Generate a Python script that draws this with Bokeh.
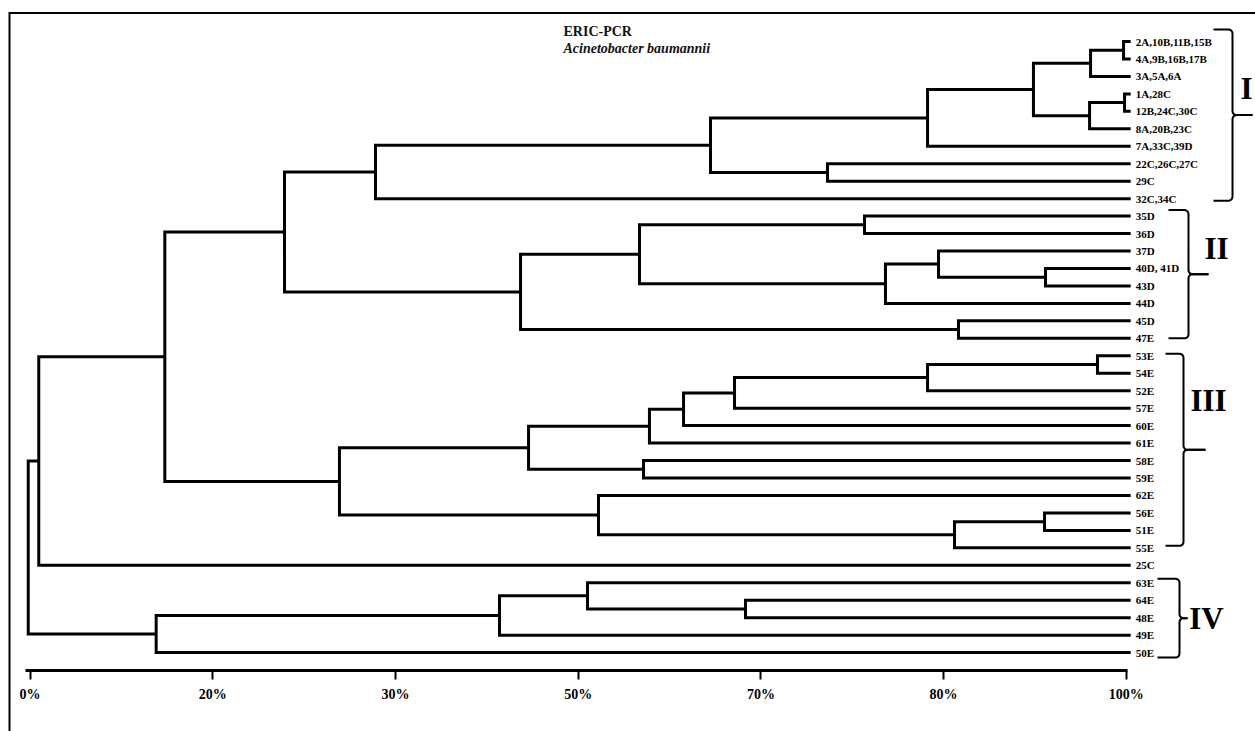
import numpy as np
from bokeh.plotting import figure
from bokeh.models import Range1d, LinearAxis, FixedTicker, CustomJSTickFormatter
from bokeh.core.properties import value
from bokeh.embed import file_html
from bokeh.resources import INLINE

# ---------------- data ----------------
title_text = "ERIC-PCR"
subtitle_text = "Acinetobacter baumannii"

leaf_labels = [
    "2A,10B,11B,15B", "4A,9B,16B,17B", "3A,5A,6A", "1A,28C", "12B,24C,30C",
    "8A,20B,23C", "7A,33C,39D", "22C,26C,27C", "29C", "32C,34C",
    "35D", "36D", "37D", "40D, 41D", "43D", "44D", "45D", "47E",
    "53E", "54E", "52E", "57E", "60E", "61E", "58E", "59E", "62E",
    "56E", "51E", "55E", "25C", "63E", "64E", "48E", "49E", "50E",
]

# merges: (node name, left child, right child, height on the axis scale 0..100)
merge_names = ["A", "B", "C", "D", "E", "F", "G", "H", "I", "J", "K", "L", "M", "N",
               "O", "P", "Q", "R", "S", "T", "U", "V", "W", "X", "Y", "Z", "AA",
               "AB", "AC", "AD", "AE", "AF", "AG", "AH", "ROOT"]
merge_left = [0, "A", 3, "C", "B", "E", 7, "F", "H", 10, 13, 12, "L", "J",
              16, "N", "I", 18, "R", "S", "T", "U", 24, "V", 27, "Y", 26,
              "X", "Q", "AC", 32, 31, "AF", "AG", "AD"]
merge_right = [1, 2, 4, 5, "D", 6, 8, "G", 9, 11, 14, "K", 15, "M",
               17, "O", "P", 19, 20, 21, 22, 23, 25, "W", 28, 29, "Z",
               "AA", "AB", 30, 33, "AE", 34, 35, "AH"]
merge_height = [99.75, 96.74, 99.84, 96.65, 91.53, 81.87, 72.74, 62.07, 31.51,
                76.12, 92.63, 82.87, 78.03, 55.59, 84.69, 44.74, 23.21,
                97.37, 81.87, 64.26, 59.61, 56.50, 55.96, 45.47, 92.54, 84.33,
                51.85, 28.22, 12.29, 0.79, 65.26, 50.85, 42.82, 11.50, -0.17]
leaf_height = 100.4

tick_positions = [0, 100 / 6, 200 / 6, 300 / 6, 400 / 6, 500 / 6, 100]
tick_labels = ["0%", "20%", "30%", "50%", "70%", "80%", "100%"]

cluster_names = ["I", "II", "III", "IV"]
cluster_first = [0, 10, 18, 31]
cluster_last = [9, 17, 29, 35]

# ---------------- layout (page pixels) ----------------
OFF = 0                   # page offset of the figure
W, H = 1255, 731
X0, XS = 29.6, 10.962     # page x of axis 0, px per unit
Y0, YS = 41.0, 17.46      # page y of first leaf, px per leaf


def dx(px):
    return (px - X0) / XS


def dy(py):
    return (py - Y0) / YS


brace_arm_px = [1213, 1168, 1165, 1157]
brace_vert_px = [1232, 1188, 1183, 1179]
brace_tip_px = [1252, 1208, 1205, 1187]
brace_pad_top_px = [12, 6, 2, 4]
brace_pad_bot_px = [2, 0, -2, 5]
label_x_px = [1246, 1216, 1208, 1206]
label_dy_px = [-27, -26, -49, 0]

FONT = value("Liberation Serif")

p = figure(width=W, height=H,
           x_range=Range1d(dx(OFF), dx(OFF + W)),
           y_range=Range1d(dy(OFF + H), dy(OFF)),
           x_axis_location=None, y_axis_location=None,
           toolbar_location=None, output_backend="svg",
           min_border=0, outline_line_color=None,
           background_fill_color="white", border_fill_color="white")
p.grid.grid_line_color = None

# frame lines (left and top)
p.line([dx(9), dx(9), dx(1300)], [dy(760), dy(12.5), dy(12.5)],
       line_color="black", line_width=2, line_join="miter")

# ---------------- dendrogram ----------------
pos = {i: (leaf_height, float(i)) for i in range(len(leaf_labels))}
xs_list, ys_list = [], []
for name, l, r, h in zip(merge_names, merge_left, merge_right, merge_height):
    ax_, ay = pos[l]
    bx, by = pos[r]
    xs_list.append([ax_, h, h, bx])
    ys_list.append([ay, ay, by, by])
    pos[name] = (h, (ay + by) / 2.0)

p.multi_line(xs_list, ys_list, line_color="black", line_width=3, line_join="miter")

# leaf labels
n = len(leaf_labels)
p.text(x=[leaf_height] * n, y=list(range(n)), text=leaf_labels,
       x_offset=5, text_font=FONT, text_font_style="bold", text_font_size="11px",
       text_baseline="middle", text_align="left", text_color="black")

# title
p.text(x=[dx(563)], y=[dy(31)], text=[title_text], text_font=FONT,
       text_font_style="bold", text_font_size="14px", text_baseline="middle",
       text_align="left", text_color="#111111")
p.text(x=[dx(563)], y=[dy(48)], text=[subtitle_text], text_font=FONT,
       text_font_style="bold italic", text_font_size="14px", text_baseline="middle",
       text_align="left", text_color="#111111")


# ---------------- cluster braces ----------------
def arc(cx, cy, r, a0, a1, k=6):
    t = np.radians(np.linspace(a0, a1, k))
    return list(cx + r * np.cos(t)), list(cy - r * np.sin(t))


bx_all, by_all = [], []
lab_x, lab_y = [], []
for ci in range(len(cluster_names)):
    y0 = Y0 + cluster_first[ci] * YS - brace_pad_top_px[ci]
    y1 = Y0 + cluster_last[ci] * YS + brace_pad_bot_px[ci]
    ym = (y0 + y1) / 2.0
    xa, xv, xt = brace_arm_px[ci], brace_vert_px[ci], brace_tip_px[ci]
    r = 4.0
    ux, uy = [xa], [y0]
    a_x, a_y = arc(xv - r, y0 + r, r, 90, 0)
    ux += a_x; uy += a_y
    a_x, a_y = arc(xv + r, ym - r, r, 180, 270)
    ux += a_x; uy += a_y
    ux.append(xt); uy.append(ym)
    lx, ly = [xt], [ym]
    a_x, a_y = arc(xv + r, ym + r, r, 90, 180)
    lx += a_x; ly += a_y
    a_x, a_y = arc(xv - r, y1 - r, r, 0, -90)
    lx += a_x; ly += a_y
    lx.append(xa); ly.append(y1)
    bx_all += [[dx(v) for v in ux], [dx(v) for v in lx]]
    by_all += [[dy(v) for v in uy], [dy(v) for v in ly]]
    lab_x.append(dx(label_x_px[ci]))
    lab_y.append(dy(ym + label_dy_px[ci]))

p.multi_line(bx_all, by_all, line_color="black", line_width=2)
p.text(x=lab_x, y=lab_y, text=cluster_names, text_font=FONT,
       text_font_style="bold", text_font_size="31px", text_baseline="middle",
       text_align="center", text_color="black")

# ---------------- axis ----------------
xaxis = LinearAxis(
    ticker=FixedTicker(ticks=tick_positions, minor_ticks=[]),
    formatter=CustomJSTickFormatter(
        args=dict(pos=tick_positions, labels=tick_labels),
        code="""
        let best = 0;
        for (let i = 0; i < pos.length; i++) {
            if (Math.abs(pos[i] - tick) < Math.abs(pos[best] - tick)) best = i;
        }
        return labels[best];
        """),
    fixed_location=dy(670),
    bounds=(dx(25), dx(1127)),
    axis_line_width=3, axis_line_color="black",
    major_tick_line_width=2, major_tick_line_color="black",
    major_tick_out=9, major_tick_in=0,
    minor_tick_out=0, minor_tick_in=0,
    major_label_standoff=7,
    major_label_text_font="Liberation Serif",
    major_label_text_font_style="bold",
    major_label_text_font_size="14px",
    major_label_text_color="black",
)
p.add_layout(xaxis, "below")

open("out.html", "w").write(file_html(p, INLINE))
